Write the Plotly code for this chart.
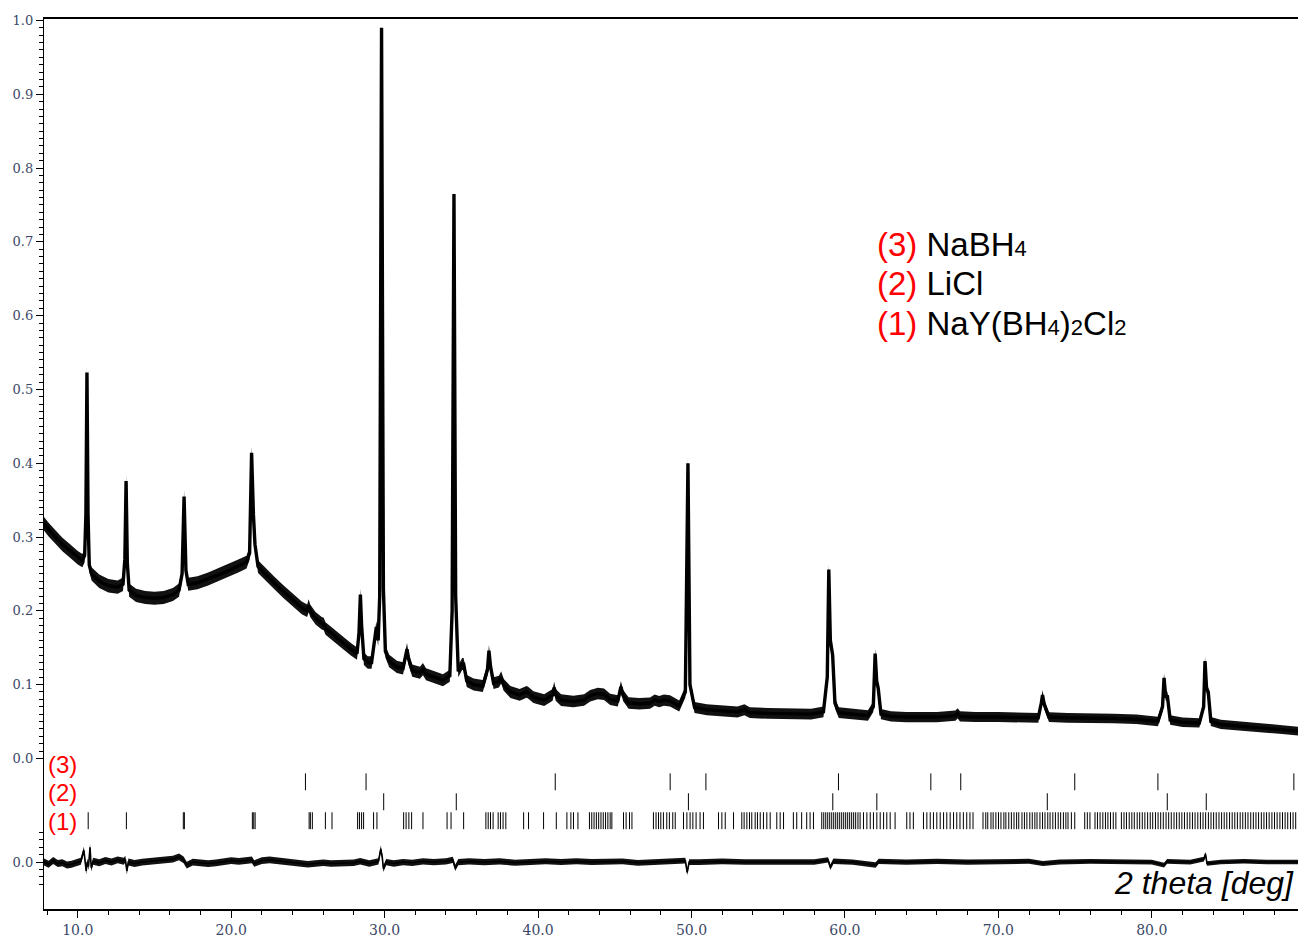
import numpy as np
import plotly.graph_objects as go

# ---------------- data ----------------
# Observed powder pattern (2theta in deg, normalised intensity)
two_theta_obs = [
    7.80, 8.10, 8.50, 9.00, 9.50, 10.00, 10.30, 10.45, 10.53, 10.60, 10.67, 10.75, 10.90,
    11.40, 12.00, 12.60, 12.95, 13.07, 13.15, 13.23, 13.35, 13.80, 14.40, 15.00, 15.60,
    16.20, 16.60, 16.80, 16.93, 17.05, 17.20, 17.80, 18.50, 19.20, 19.90, 20.50, 21.00,
    21.20, 21.33, 21.45, 21.55, 21.75, 22.20, 22.80, 23.40, 24.00, 24.60, 24.95, 25.05,
    25.15, 25.50, 25.90, 26.03, 26.15, 26.60, 27.20, 27.80, 28.20, 28.33, 28.42, 28.50,
    28.65, 28.90, 29.15, 29.35, 29.46, 29.58, 29.68, 29.80, 29.92, 30.05, 30.30, 30.80,
    31.20, 31.38, 31.46, 31.56, 31.80, 32.30, 32.50, 32.70, 33.20, 33.80, 34.25, 34.40,
    34.52, 34.63, 34.80, 35.05, 35.15, 35.35, 35.80, 36.40, 36.70, 36.80, 36.90, 37.10,
    37.45, 37.60, 37.75, 38.20, 38.80, 39.25, 39.35, 39.70, 40.40, 40.95, 41.05, 41.15,
    41.50, 42.30, 43.00, 43.40, 43.90, 44.30, 44.70, 45.20, 45.40, 45.55, 45.90, 46.60,
    47.30, 47.60, 47.90, 48.20, 48.60, 49.20, 49.60, 49.77, 49.90, 50.20, 51.00, 52.00,
    53.00, 53.45, 53.80, 55.00, 56.50, 57.80, 58.60, 58.85, 58.95, 59.05, 59.20, 59.35,
    59.60, 60.50, 61.50, 61.85, 61.97, 62.07, 62.17, 62.35, 63.00, 64.00, 65.00, 66.00,
    67.20, 67.35, 67.50, 68.50, 70.00, 71.50, 72.60, 72.80, 72.88, 72.98, 73.10, 73.30,
    74.50, 76.00, 77.50, 79.00, 80.40, 80.70, 80.80, 80.90, 81.02, 81.20, 82.00, 83.10,
    83.38, 83.47, 83.57, 83.68, 83.85, 84.50, 85.50, 86.50, 87.50, 88.50, 89.53,
]
intensity_obs = [
    0.318, 0.310, 0.301, 0.290, 0.281, 0.272, 0.268, 0.275, 0.330, 0.523, 0.330, 0.262, 0.250,
    0.240, 0.234, 0.232, 0.236, 0.270, 0.376, 0.265, 0.228, 0.221, 0.218, 0.217, 0.218,
    0.222, 0.228, 0.250, 0.355, 0.255, 0.236, 0.238, 0.243, 0.249, 0.255, 0.261, 0.266,
    0.278, 0.414, 0.330, 0.290, 0.260, 0.250, 0.238, 0.226, 0.215, 0.204, 0.200, 0.207,
    0.200, 0.190, 0.183, 0.182, 0.176, 0.168, 0.158, 0.148, 0.142, 0.170, 0.222, 0.180,
    0.135, 0.130, 0.130, 0.160, 0.178, 0.160, 0.220, 0.990, 0.230, 0.145, 0.132, 0.124,
    0.122, 0.140, 0.148, 0.135, 0.119, 0.116, 0.121, 0.114, 0.110, 0.106, 0.112, 0.200,
    0.765, 0.220, 0.118, 0.128, 0.128, 0.105, 0.100, 0.098, 0.120, 0.146, 0.125, 0.102,
    0.104, 0.110, 0.100, 0.090, 0.086, 0.090, 0.089, 0.083, 0.079, 0.086, 0.096, 0.086,
    0.079, 0.077, 0.079, 0.085, 0.088, 0.087, 0.080, 0.078, 0.097, 0.085, 0.075, 0.074,
    0.075, 0.079, 0.077, 0.079, 0.078, 0.071, 0.090, 0.400, 0.100, 0.069, 0.066, 0.064,
    0.063, 0.066, 0.062, 0.061, 0.060, 0.060, 0.063, 0.110, 0.256, 0.160, 0.140, 0.075,
    0.062, 0.060, 0.058, 0.070, 0.142, 0.105, 0.095, 0.060, 0.057, 0.056, 0.056, 0.056,
    0.058, 0.061, 0.057, 0.056, 0.056, 0.055, 0.055, 0.075, 0.086, 0.074, 0.068, 0.056,
    0.055, 0.055, 0.054, 0.053, 0.050, 0.070, 0.109, 0.085, 0.084, 0.052, 0.049, 0.048,
    0.070, 0.132, 0.095, 0.090, 0.050, 0.046, 0.044, 0.042, 0.040, 0.039, 0.037,
]

# Difference curve (obs - calc)
two_theta_diff = [
    7.80, 8.10, 8.40, 8.70, 9.00, 9.30, 9.60, 9.90, 10.20, 10.40, 10.48, 10.55, 10.62,
    10.70, 10.80, 10.88, 11.00, 11.40, 11.80, 12.20, 12.60, 13.00, 13.10, 13.20, 13.30,
    13.70, 14.20, 14.70, 15.20, 15.70, 16.20, 16.60, 16.90, 17.10, 17.50, 18.00, 18.50,
    19.00, 19.50, 20.00, 20.50, 21.00, 21.35, 21.50, 22.00, 22.50, 23.00, 23.50, 24.00,
    24.50, 25.00, 25.50, 26.00, 26.50, 27.00, 27.50, 28.00, 28.40, 29.00, 29.60, 29.75,
    29.85, 29.92, 30.10, 30.60, 31.20, 31.80, 32.50, 33.20, 34.00, 34.45, 34.60, 34.80,
    35.50, 36.50, 37.50, 38.50, 39.50, 40.50, 41.50, 42.50, 43.50, 44.50, 45.50, 46.50,
    47.50, 48.50, 49.60, 49.72, 49.85, 50.50, 52.00, 53.50, 55.00, 56.50, 58.00, 58.90,
    59.05, 59.25, 60.50, 62.00, 62.20, 64.00, 66.00, 68.00, 70.00, 72.00, 72.90, 74.00,
    76.00, 78.00, 80.00, 80.80, 81.00, 82.50, 83.40, 83.50, 83.60, 84.50, 86.00, 87.50,
    89.53,
]
intensity_diff = [
    0.000, -0.003, 0.002, -0.002, -0.001, -0.004, -0.003, -0.001, 0.001, 0.016, 0.004, -0.012, 0.000,
    -0.006, 0.020, -0.008, 0.001, -0.001, 0.002, 0.000, 0.003, 0.001, 0.004, -0.012, 0.000,
    -0.002, 0.000, 0.001, 0.002, 0.003, 0.004, 0.007, 0.003, -0.004, 0.000, -0.001, -0.002,
    -0.001, 0.001, 0.002, 0.001, 0.002, 0.003, -0.002, 0.002, 0.003, 0.002, 0.001, 0.000,
    -0.001, -0.003, -0.002, -0.001, -0.002, -0.002, -0.001, -0.001, 0.001, -0.002, 0.001, 0.018,
    0.006, -0.009, 0.000, -0.002, 0.000, -0.001, 0.001, 0.000, 0.001, 0.003, -0.008, 0.000,
    0.001, 0.000, 0.001, -0.001, 0.000, 0.001, 0.000, 0.001, 0.000, 0.000, 0.001, -0.001,
    0.000, 0.001, 0.002, -0.014, 0.000, 0.000, 0.001, 0.000, 0.000, 0.001, 0.000, 0.003,
    -0.007, 0.001, 0.000, -0.004, 0.001, 0.000, 0.001, 0.000, 0.000, 0.001, -0.002, 0.000,
    0.001, 0.000, 0.000, -0.004, 0.001, 0.000, 0.004, 0.011, -0.002, 0.000, 0.001, 0.000,
    0.000,
]

# Bragg reflection positions (deg 2theta) for each phase
refl_nabh4 = [24.84, 28.79, 41.12, 48.61, 50.94, 59.58, 65.60, 67.55, 74.98, 80.40, 89.26]
refl_licl = [29.94, 34.67, 49.80, 59.21, 62.08, 73.19, 81.01, 83.55]
refl_nay = [
    10.68, 13.17, 16.88, 16.95, 21.38, 21.47, 21.56, 25.08, 25.16, 25.29, 26.14, 26.57,
    28.24, 28.36, 28.50, 28.63, 29.28, 29.50, 31.24, 31.40, 31.58, 31.76, 32.50, 34.07,
    34.33, 35.15, 36.60, 36.75, 36.90, 37.07, 37.40, 37.55, 37.72, 37.90, 39.06, 39.38,
    40.36, 41.19, 41.88, 42.14, 42.31, 42.60, 43.35, 43.50, 43.65, 43.80, 43.95, 44.10,
    44.25, 44.40, 44.55, 44.70, 44.81, 45.57, 45.74, 45.96, 46.12, 47.52, 47.69, 47.85,
    48.00, 48.17, 48.39, 48.56, 48.78, 48.94, 49.48, 49.70, 49.91, 50.09, 50.30, 50.56,
    50.78, 51.76, 51.98, 52.20, 52.74, 53.28, 53.43, 53.61, 53.78, 53.93, 54.15, 54.30,
    54.48, 54.69, 54.91, 55.13, 55.56, 55.78, 56.00, 56.64, 56.86, 57.18, 57.51, 57.73,
    57.95, 58.49, 58.62, 58.75, 58.88, 59.01, 59.14, 59.27, 59.40, 59.53, 59.66, 59.79,
    59.92, 60.05, 60.18, 60.31, 60.44, 60.57, 60.70, 60.85, 60.99, 61.21, 61.43, 61.65,
    61.86, 62.08, 62.30, 62.52, 62.73, 62.95, 63.27, 64.03, 64.24, 64.46, 65.12, 65.34,
    65.56, 65.77, 65.99, 66.21, 66.43, 66.64, 66.86, 67.08, 67.29, 67.50, 67.72, 67.94,
    68.15, 68.35, 69.00, 69.18, 69.31, 69.52, 69.66, 69.84, 70.01, 70.17, 70.36, 70.49,
    70.68, 70.85, 71.02, 71.19, 71.33, 71.54, 71.70, 71.86, 72.05, 72.21, 72.38, 72.52,
    72.71, 72.88, 73.04, 73.22, 73.37, 73.55, 73.72, 73.90, 74.06, 74.24, 74.40, 74.54,
    74.76, 74.98, 75.63, 75.80, 75.97, 76.30, 76.46, 76.63, 76.81, 76.98, 77.14, 77.31,
    77.49, 77.66, 78.02, 78.19, 78.35, 78.53, 78.70, 78.86, 79.05, 79.21, 79.38, 79.55,
    79.73, 79.90, 80.06, 80.24, 80.41, 80.58, 80.75, 80.93, 81.10, 81.27, 81.45, 81.62,
    81.79, 81.96, 82.13, 82.31, 82.48, 82.65, 82.82, 83.00, 83.17, 83.34, 83.51, 83.69,
    83.86, 84.03, 84.20, 84.38, 84.55, 84.72, 84.89, 85.07, 85.24, 85.41, 85.58, 85.76,
    85.93, 86.10, 86.27, 86.45, 86.62, 86.79, 86.96, 87.14, 87.31, 87.48, 87.65, 87.83,
    88.00, 88.17, 88.35, 88.52, 88.69, 88.86, 89.04, 89.21, 89.38,
]

x_tick_vals = [10, 20, 30, 40, 50, 60, 70, 80]
x_tick_text = ["10.0", "20.0", "30.0", "40.0", "50.0", "60.0", "70.0", "80.0"]
y_tick_vals = [0.0, 0.1, 0.2, 0.3, 0.4, 0.5, 0.6, 0.7, 0.8, 0.9, 1.0]
y_tick_text = ["0.0", "0.1", "0.2", "0.3", "0.4", "0.5", "0.6", "0.7", "0.8", "0.9", "1.0"]

# ---------------- layout constants ----------------
X_RANGE = [7.80, 89.53]
Y_RANGE = [-0.2041, 1.002]
DIFF_OFFSET = -0.1405          # baseline of the difference curve
ROW_SPAN = {                   # vertical extent of each reflection row
    "nabh4": (-0.0203, -0.0432),
    "licl": (-0.0473, -0.0703),
    "nay": (-0.0730, -0.0959),
}
OBS_BAND = (0.0092, 0.0060)    # half-thickness of the scatter band (low / high angle)
DIFF_BAND = (0.0048, 0.0030)
TICK_FONT = dict(family="DejaVu Serif", size=13, color="#3a4868")
RED = "#ff0000"

fig = go.Figure()


def add_band(x, y, offset, band, line_w):
    x = np.asarray(x, dtype=float)
    y = np.asarray(y, dtype=float) + offset
    half = np.interp(x, X_RANGE, band)
    fig.add_trace(go.Scatter(x=x, y=y - half, mode="lines",
                             line=dict(width=0, color="black"), hoverinfo="skip"))
    fig.add_trace(go.Scatter(x=x, y=y + half, mode="lines", fill="tonexty",
                             fillcolor="#111111", line=dict(width=0, color="black"),
                             hoverinfo="skip"))
    fig.add_trace(go.Scatter(x=x, y=y, mode="lines",
                             line=dict(width=line_w, color="black")))


# observed + calculated profile
add_band(two_theta_obs, intensity_obs, 0.0, OBS_BAND, 3.4)
# difference curve
add_band(two_theta_diff, intensity_diff, DIFF_OFFSET, DIFF_BAND, 1.6)


def add_reflections(positions, span):
    xs, ys = [], []
    for p in positions:
        xs += [p, p, None]
        ys += [span[0], span[1], None]
    fig.add_trace(go.Scatter(x=xs, y=ys, mode="lines",
                             line=dict(width=1, color="black"), hoverinfo="skip"))


add_reflections(refl_nabh4, ROW_SPAN["nabh4"])
add_reflections(refl_licl, ROW_SPAN["licl"])
add_reflections(refl_nay, ROW_SPAN["nay"])

# row labels
for lbl, yc in [("(3)", -0.0081), ("(2)", -0.0459), ("(1)", -0.0851)]:
    fig.add_annotation(x=7.96, y=yc, xref="x", yref="y", text=lbl, showarrow=False,
                       xanchor="left", yanchor="middle",
                       font=dict(family="Liberation Sans", size=24, color=RED))

# phase key
SUB = "<span style='font-size:22px'>{}</span>"
key_lines = [
    ("(3)", "NaBH" + SUB.format("4"), 0.697),
    ("(2)", "LiCl", 0.643),
    ("(1)", "NaY(BH" + SUB.format("4") + ")" + SUB.format("2") + "Cl" + SUB.format("2"), 0.590),
]
for num, name, yc in key_lines:
    fig.add_annotation(x=61.93, y=yc, xref="x", yref="y",
                       text=f"<span style='color:{RED}'>{num}</span> {name}",
                       showarrow=False, xanchor="left", yanchor="middle",
                       font=dict(family="Liberation Sans", size=33, color="black"))

# axis title inside the plot, right-aligned to the frame edge
fig.add_annotation(x=0.9985, y=-0.169, xref="paper", yref="y", text="<i>2 theta [deg]</i>",
                   showarrow=False, xanchor="right", yanchor="middle",
                   font=dict(family="Liberation Sans", size=32, color="black"))

x_minor = [v for v in range(8, 90, 2) if v % 10 != 0]
y_minor = [round(i * 0.01, 2) for i in range(1, 100) if i % 10 != 0]
y_minor += [round(DIFF_OFFSET + d * 0.01, 4) for d in (-3, -2, -1, 1, 2, 3, 4)]

fig.update_layout(
    width=1298, height=938,
    margin=dict(l=44, r=0, t=19, b=27),
    plot_bgcolor="white", paper_bgcolor="white",
    showlegend=False,
    xaxis=dict(
        range=X_RANGE, showgrid=False, zeroline=False,
        showline=True, linecolor="black", linewidth=1.5, mirror=True,
        ticks="outside", ticklen=7, tickwidth=1, tickcolor="black",
        tickmode="array", tickvals=x_tick_vals, ticktext=x_tick_text,
        tickfont=dict(TICK_FONT, size=14),
        minor=dict(tickmode="array", tickvals=x_minor, ticks="outside",
                   ticklen=4, tickwidth=1, tickcolor="black", showgrid=False),
    ),
    yaxis=dict(
        range=Y_RANGE, showgrid=False, zeroline=False,
        showline=True, linecolor="black", linewidth=1.3,
        ticks="outside", ticklen=7, tickwidth=1, tickcolor="black",
        tickmode="array", tickvals=y_tick_vals + [DIFF_OFFSET],
        ticktext=y_tick_text + ["0.0"],
        tickfont=TICK_FONT,
        minor=dict(tickmode="array", tickvals=y_minor, ticks="outside",
                   ticklen=4, tickwidth=1, tickcolor="black", showgrid=False),
    ),
)

fig.write_html("out.html")
